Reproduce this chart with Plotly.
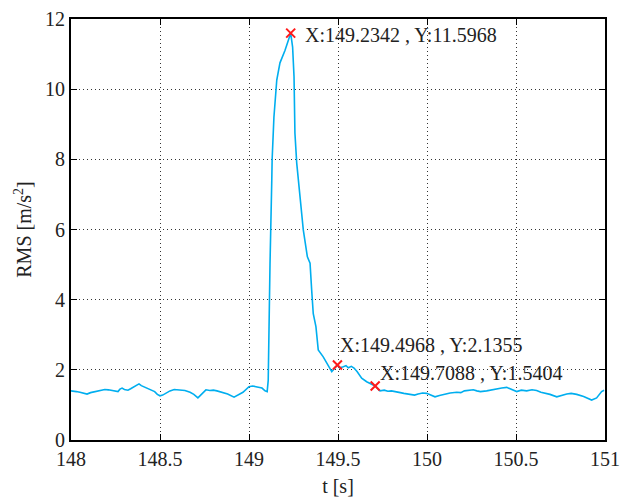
import plotly.graph_objects as go

t = [148.0, 148.006, 148.03, 148.05, 148.07, 148.09, 148.11, 148.13, 148.15, 148.163, 148.19, 148.21,
     148.24, 148.264, 148.275, 148.287, 148.30, 148.32, 148.335, 148.35, 148.365,
     148.382, 148.395, 148.41, 148.43, 148.444, 148.47, 148.485, 148.5, 148.515, 148.53, 148.556, 148.58,
     148.612, 148.64, 148.669, 148.69, 148.713, 148.735, 148.758, 148.78, 148.80, 148.82, 148.848, 148.88,
     148.916, 148.94, 148.966, 149.0, 149.02, 149.039, 149.06,
     149.073, 149.09, 149.102, 149.108, 149.112, 149.118, 149.128, 149.13, 149.14, 149.156, 149.174,
     149.202, 149.2342, 149.245, 149.253, 149.258, 149.268, 149.277, 149.287, 149.296, 149.305, 149.328,
     149.343, 149.352, 149.361, 149.376, 149.389, 149.417, 149.446, 149.465, 149.4968, 149.51, 149.53,
     149.545, 149.558, 149.575, 149.59, 149.607, 149.633, 149.661, 149.7088, 149.736, 149.76, 149.78,
     149.80, 149.83, 149.85, 149.87, 149.904, 149.93, 149.95, 149.975, 149.998, 150.02, 150.045, 150.07,
     150.092, 150.13, 150.167, 150.19, 150.21, 150.235, 150.26, 150.28, 150.30, 150.335, 150.36,
     150.39, 150.42, 150.448, 150.475, 150.504, 150.53, 150.56, 150.59, 150.616, 150.64, 150.66,
     150.691, 150.729, 150.76, 150.785, 150.81, 150.841, 150.88, 150.925, 150.953, 150.981, 150.995]
rms = [1.40, 1.40, 1.38, 1.36, 1.33, 1.31, 1.35, 1.37, 1.39, 1.41, 1.44, 1.43,
       1.40, 1.38, 1.45, 1.48, 1.44, 1.42, 1.46, 1.50, 1.54,
       1.60, 1.55, 1.52, 1.48, 1.45, 1.38, 1.30, 1.26, 1.28, 1.33, 1.40, 1.44,
       1.42, 1.41, 1.36, 1.30, 1.20, 1.30, 1.43, 1.41, 1.42, 1.40, 1.36, 1.31,
       1.22, 1.28, 1.36, 1.52, 1.54, 1.52, 1.50,
       1.48, 1.40, 1.38, 1.70, 3.70, 5.00, 7.40, 8.00, 9.20, 10.26, 10.75,
       11.10, 11.5968, 11.20, 10.35, 8.75, 7.90, 7.40, 6.84, 6.27, 5.99, 5.22,
       5.04, 4.28, 3.60, 3.23, 2.57, 2.37, 2.14, 1.95, 2.1355, 2.06, 2.09,
       2.12, 2.06, 2.10, 2.05, 1.95, 1.76, 1.66, 1.5404, 1.40, 1.42, 1.39,
       1.40, 1.38, 1.35, 1.33, 1.30, 1.28, 1.31, 1.34, 1.33, 1.28, 1.23, 1.27,
       1.30, 1.34, 1.36, 1.35, 1.40, 1.42, 1.43, 1.40, 1.38, 1.40, 1.43,
       1.45, 1.48, 1.50, 1.44, 1.38, 1.42, 1.40, 1.43, 1.41, 1.36, 1.34,
       1.30, 1.23, 1.28, 1.31, 1.33, 1.30, 1.24, 1.14, 1.20, 1.38, 1.42]

mark_t = [149.2342, 149.4968, 149.7088]
mark_y = [11.5968, 2.1355, 1.5404]
mark_labels = ["X:149.2342 , Y:11.5968", "X:149.4968 , Y:2.1355", "X:149.7088 , Y:1.5404"]
label_shift = [(12, -2), (1, 20), (3, 13)]

x_ticks = [148, 148.5, 149, 149.5, 150, 150.5, 151]
y_ticks = [0, 2, 4, 6, 8, 10, 12]

font = "Liberation Serif"

fig = go.Figure()
fig.add_trace(go.Scatter(x=t, y=rms, mode="lines",
                         line=dict(color="#00AEEF", width=1.6), showlegend=False))
fig.add_trace(go.Scatter(x=mark_t, y=mark_y, mode="markers",
                         marker=dict(symbol="x-thin", size=9, line=dict(color="#FF1A1A", width=2)),
                         showlegend=False))

for xv, yv, txt, (dx, dy) in zip(mark_t, mark_y, mark_labels, label_shift):
    fig.add_annotation(x=xv, y=yv, text=txt, showarrow=False, xanchor="left", yanchor="middle",
                       xshift=dx, yshift=dy, font=dict(family=font, size=20, color="#222222"))

axis_common = dict(showline=True, linecolor="black", linewidth=2, mirror="ticks",
                   ticks="inside", ticklen=6, tickcolor="black", tickwidth=1,
                   showgrid=True, gridcolor="#333333", griddash="1px,3px", gridwidth=1,
                   zeroline=False, automargin=False,
                   tickfont=dict(family=font, size=20, color="#222222"),
                   title_font=dict(family=font, size=20, color="#222222"))

fig.update_xaxes(range=[148, 151], tickvals=x_ticks, ticktext=[f"{v:g}" for v in x_ticks],
                 title_text="t [s]", title_standoff=10, **axis_common)
fig.update_yaxes(range=[0, 12], tickvals=y_ticks, ticktext=[str(v) for v in y_ticks],
                 title_text="RMS [m/s<sup>2</sup>]", title_standoff=8, **axis_common)

fig.update_layout(width=630, height=503, margin=dict(l=71, r=25, t=19, b=63),
                  plot_bgcolor="white", paper_bgcolor="white")

fig.write_html("out.html", config={"displayModeBar": False},
               post_script="document.body.style.margin='0';document.body.style.overflow='hidden';")
